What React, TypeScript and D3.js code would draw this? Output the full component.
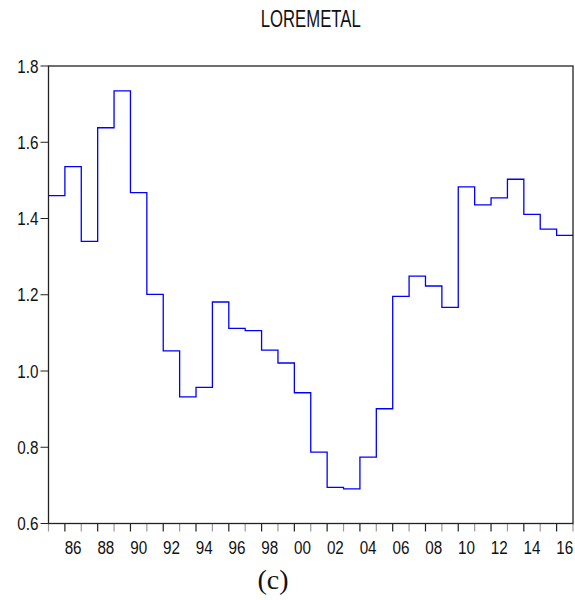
import React, { useEffect, useRef } from "react";
import * as d3 from "d3";

// annual values, 1985..2016
const years = d3.range(1985, 2017);
const values = [
  1.46, 1.536, 1.34, 1.638, 1.735, 1.468, 1.201, 1.053, 0.932, 0.957,
  1.181, 1.112, 1.106, 1.055, 1.021, 0.943, 0.787, 0.695, 0.691, 0.774,
  0.901, 1.196, 1.249, 1.223, 1.167, 1.483, 1.436, 1.454, 1.503, 1.411,
  1.372, 1.356,
];
const yTicks = [0.6, 0.8, 1.0, 1.2, 1.4, 1.6, 1.8];
const xLabelYears = d3.range(1986, 2017, 2);
const title = "LOREMETAL";
const caption = "(c)";

const App = () => {
  const svgRef = useRef<SVGSVGElement>(null);

  useEffect(() => {
    const svg = d3.select(svgRef.current);
    svg.selectAll("*").remove();

    const left = 48.5, right = 573, top = 66, bottom = 523.5;
    const font = "'Liberation Sans', Arial, sans-serif";

    const x = d3.scaleLinear().domain([1985, 2017]).range([left, right]);
    const y = d3.scaleLinear().domain([0.6, 1.8]).range([bottom, top]);

    svg.append("rect").attr("width", 575).attr("height", 600).attr("fill", "#fff");

    // title
    svg.append("text")
      .attr("x", (left + right) / 2)
      .attr("y", 27)
      .attr("text-anchor", "middle")
      .attr("font-family", font)
      .attr("font-size", 23)
      .attr("textLength", 100)
      .attr("lengthAdjust", "spacingAndGlyphs")
      .attr("fill", "#111")
      .text(title);

    // y ticks + labels
    svg.selectAll(".ytick")
      .data(yTicks)
      .join("line")
      .attr("x1", left - 8)
      .attr("x2", left)
      .attr("y1", d => y(d))
      .attr("y2", d => y(d))
      .attr("stroke", "#222")
      .attr("stroke-width", 1);

    svg.selectAll(".ylab")
      .data(yTicks)
      .join("text")
      .attr("transform", d => `translate(${left - 10},${y(d) + 6.5}) scale(0.87,1)`)
      .attr("text-anchor", "end")
      .attr("font-family", font)
      .attr("font-size", 17.5)
      .attr("fill", "#111")
      .text(d => d3.format(".1f")(d));

    // x ticks at every year boundary
    svg.selectAll(".xtick")
      .data(d3.range(1985, 2018))
      .join("line")
      .attr("x1", d => x(d))
      .attr("x2", d => x(d))
      .attr("y1", bottom)
      .attr("y2", bottom + 8)
      .attr("stroke", d => (d % 2 === 0 ? "#222" : "#999"))
      .attr("stroke-width", 1.2);

    svg.selectAll(".xlab")
      .data(xLabelYears)
      .join("text")
      .attr("transform", d => `translate(${x(d + 0.5)},553.5) scale(0.87,1)`)
      .attr("text-anchor", "middle")
      .attr("font-family", font)
      .attr("font-size", 17.5)
      .attr("fill", "#111")
      .text(d => String(d % 100).padStart(2, "0"));

    // frame
    svg.append("rect")
      .attr("x", left)
      .attr("y", top)
      .attr("width", right - left)
      .attr("height", bottom - top)
      .attr("fill", "none")
      .attr("stroke", "#222")
      .attr("stroke-width", 1.3);

    // step series
    const pts: [number, number][] = years.map((yr, i) => [yr, values[i]]);
    pts.push([2017, values[values.length - 1]]);
    const line = d3.line<[number, number]>()
      .x(d => x(d[0]))
      .y(d => y(d[1]))
      .curve(d3.curveStepAfter);

    svg.append("path")
      .datum(pts)
      .attr("d", line)
      .attr("fill", "none")
      .attr("stroke", "#0000ff")
      .attr("stroke-width", 1.3);

    // caption
    svg.append("text")
      .attr("x", 273)
      .attr("y", 589)
      .attr("text-anchor", "middle")
      .attr("font-family", "'Liberation Serif', 'Times New Roman', serif")
      .attr("font-size", 28)
      .attr("fill", "#111")
      .text(caption);
  }, []);

  return (
    <svg
      ref={svgRef}
      width={575}
      height={600}
      style={{ position: "absolute", left: 0, top: 0 }}
    />
  );
};

export default App;
